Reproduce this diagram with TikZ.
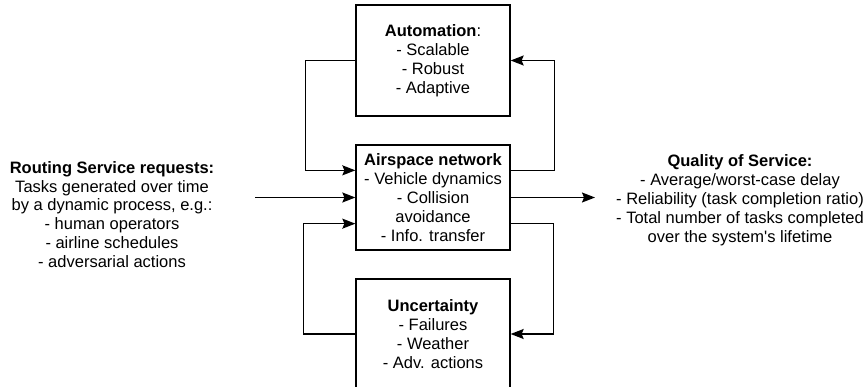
\documentclass[tikz,border=0pt]{standalone}
\usepackage{fontspec}
\setmainfont{Liberation Sans}
\usetikzlibrary{arrows.meta}
\begin{document}
\begin{tikzpicture}[x=1pt,y=-1pt,
  txt/.style={font=\fontsize{16.5}{18.9}\selectfont, align=center, inner sep=0pt},
  box/.style={txt, draw, line width=1.3pt, minimum width=154pt},
  conn/.style={line width=1.3pt},
  arr/.style={conn, -{Stealth[length=13pt,width=10pt,inset=2pt]}}]
\useasboundingbox (0,0) rectangle (866,387);
\node[box, minimum height=111pt] (auto) at (433,60.5)
  {\textbf{Automation}:\\- Scalable\\- Robust\\- Adaptive};
\node[box, minimum height=105pt] (air) at (433,197.5)
  {\textbf{Airspace network}\\- Vehicle dynamics\\- Collision\\avoidance\\- Info. transfer};
\node[box, minimum height=110pt] (unc) at (433,334)
  {\textbf{Uncertainty}\\- Failures\\- Weather\\- Adv. actions};
\node[txt] (req) at (112,214.5)
  {\textbf{Routing Service requests:}\\Tasks generated over time\\by a dynamic process, e.g.:\\- human operators\\- airline schedules\\- adversarial actions};
\node[txt] (qos) at (740,200)
  {\textbf{Quality of Service:}\\- Average/worst-case delay\\- Reliability (task completion ratio)\\- Total number of tasks completed\\over the system\textquotesingle s lifetime};
\coordinate (in) at (255,197.5);
\coordinate (out) at (595,197.5);
\draw[arr] (auto.west) -- ++(-50,0) |- ([yshift=-26pt]air.north west);
\draw[arr] ([yshift=-26pt]air.north east) -- ++(44,0) |- (auto.east);
\draw[arr] (unc.west) -- ++(-52,0) |- ([yshift=27pt]air.south west);
\draw[arr] ([yshift=27pt]air.south east) -- ++(43,0) |- (unc.east);
\draw[arr] (in) -- (air.west);
\draw[arr] (air.east) -- (out);
\end{tikzpicture}
\end{document}
